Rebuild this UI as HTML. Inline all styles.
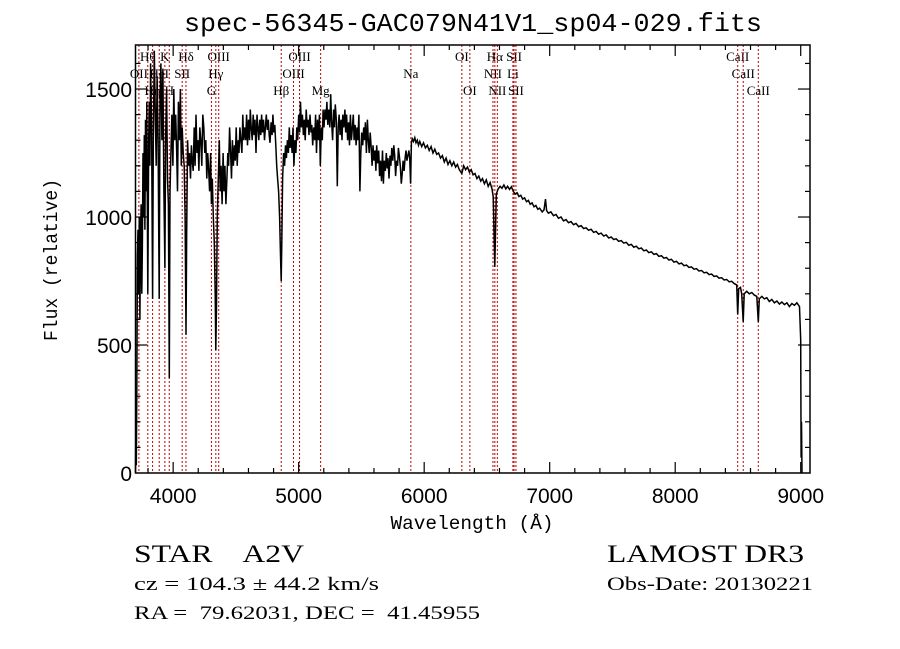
<!DOCTYPE html>
<html><head><meta charset="utf-8"><style>
html,body{margin:0;padding:0;background:#fff;}
svg{display:block;}
</style></head><body>
<svg id="chart" width="900" height="649" xmlns="http://www.w3.org/2000/svg">
<rect x="0" y="0" width="900" height="649" fill="#fff"/>
<text x="473" y="31" font-family="Liberation Mono, monospace" font-size="26" text-anchor="middle" textLength="578" lengthAdjust="spacingAndGlyphs">spec-56345-GAC079N41V1_sp04-029.fits</text>
<g id="lines"></g>
<g id="spec"></g>
<g id="axes"></g>
<text x="472" y="529" font-family="Liberation Mono, monospace" font-size="19" text-anchor="middle" textLength="163" lengthAdjust="spacingAndGlyphs">Wavelength (Å)</text>
<text x="0" y="0" transform="translate(57,260) rotate(-90)" font-family="Liberation Mono, monospace" font-size="19" text-anchor="middle" textLength="162" lengthAdjust="spacingAndGlyphs">Flux (relative)</text>
<g font-family="Liberation Serif, serif" fill="#000">
<text x="134" y="562" font-size="25" xml:space="preserve" textLength="170" lengthAdjust="spacingAndGlyphs">STAR    A2V</text>
<text x="607" y="562" font-size="25" textLength="197" lengthAdjust="spacingAndGlyphs">LAMOST DR3</text>
<text x="134" y="590" font-size="19" textLength="245" lengthAdjust="spacingAndGlyphs">cz = 104.3 ± 44.2 km/s</text>
<text x="607" y="590" font-size="19" textLength="206" lengthAdjust="spacingAndGlyphs">Obs-Date: 20130221</text>
<text x="134" y="619" font-size="19" textLength="346" lengthAdjust="spacingAndGlyphs" xml:space="preserve">RA =  79.62031, DEC =  41.45955</text>
</g>
</svg>
<script>
const waves = [3700,3703,3706,3710,3715,3720,3725,3730,3735,3740,3745,3750,3755,3760,3765,3770,3775,3780,3785,3790,3798,3805,3810,3815,3820,3828,3836,3842,3850,3858,3865,3872,3880,3889,3895,3902,3910,3918,3926,3934,3940,3948,3955,3962,3969,3975,3982,3990,3998,4005,4012,4020,4028,4035,4042,4050,4058,4065,4072,4080,4088,4095,4102,4108,4115,4122,4130,4138,4145,4152,4160,4168,4175,4182,4190,4198,4205,4212,4220,4228,4236,4244,4252,4260,4268,4275,4282,4290,4298,4305,4312,4320,4328,4335,4340,4345,4352,4360,4368,4375,4382,4390,4398,4405,4412,4420,4428,4435,4442,4450,4458,4465,4472,4480,4488,4495,4502,4510,4518,4525,4532,4540,4548,4555,4562,4570,4578,4585,4592,4600,4608,4615,4622,4630,4638,4645,4652,4660,4668,4675,4682,4690,4698,4705,4712,4720,4728,4735,4742,4750,4758,4765,4772,4780,4788,4795,4802,4810,4818,4825,4832,4840,4848,4855,4861,4866,4872,4880,4888,4895,4902,4910,4918,4925,4932,4940,4948,4955,4962,4970,4978,4985,4992,5000,5008,5015,5022,5030,5038,5045,5052,5060,5068,5075,5082,5090,5098,5105,5112,5120,5128,5135,5142,5150,5158,5165,5172,5180,5188,5195,5202,5210,5218,5225,5232,5240,5248,5255,5262,5270,5278,5285,5292,5300,5308,5315,5322,5330,5338,5345,5352,5360,5368,5375,5382,5390,5398,5405,5412,5420,5428,5435,5442,5450,5458,5465,5472,5480,5488,5495,5502,5510,5518,5525,5532,5540,5548,5555,5562,5570,5578,5585,5592,5600,5608,5615,5622,5630,5638,5645,5652,5660,5668,5675,5682,5690,5698,5705,5712,5720,5728,5735,5742,5750,5758,5765,5772,5780,5788,5795,5802,5810,5818,5825,5832,5840,5848,5855,5862,5870,5878,5885,5892,
5898,5905,5915,5925,5935,5945,5955,5965,5980,5995,6010,6025,6040,6055,6070,6085,6100,6115,6130,6145,6160,6175,6190,6205,6220,6235,6250,6265,6280,6300,6315,6330,6345,6360,6375,6390,6405,6420,6435,6450,6465,6480,6495,6510,6525,6540,6550,6556,6563,6568,6575,6590,6605,6620,6635,6650,6665,6680,6695,6710,6725,6740,6755,6770,6785,6800,6815,6830,6845,6860,6875,6890,6905,6920,6940,6955,6967,6975,6990,7010,7030,7050,7070,7090,7110,7130,7150,7170,7190,7210,7230,7250,7270,7290,7310,7330,7350,7370,7390,7410,7430,7450,7470,7490,7510,7530,7550,7570,7590,7610,7630,7650,7670,7690,7710,7730,7750,7770,7790,7810,7830,7850,7870,7890,7910,7930,7950,7970,7990,8010,8030,8050,8070,8090,8110,8130,8150,8170,8190,8210,8230,8250,8270,8290,8310,8330,8350,8370,8390,8410,8430,8450,8470,8490,8498,8506,8520,8530,8542,8550,8570,8590,8610,8630,8650,8662,8670,8690,8710,8730,8750,8770,8790,8810,8830,8850,8870,8890,8910,8930,8950,8970,8990,9000,9003,9006,9010];
const flux = [0,200,30,300,850,950,700,1000,600,900,1050,700,900,1250,1000,1320,950,1380,1100,1450,700,1300,1450,1200,1600,1350,680,1300,1650,1400,1200,1550,1300,680,1450,1600,1300,1580,1100,800,1300,1500,1150,1050,370,1100,1250,1400,1200,1500,1300,1400,1250,1100,1450,1300,1500,1200,1350,1250,1200,1000,540,950,1300,1200,1250,1150,1280,1220,1180,1350,1200,1400,1250,1300,1180,1350,1300,1200,1400,1350,1250,1300,1150,1250,1200,1100,1250,1050,1150,1000,900,700,480,650,1000,1150,1300,1100,1200,1050,1250,1100,1200,1050,1150,1250,1200,1350,1250,1150,1300,1200,1280,1220,1350,1200,1300,1250,1350,1300,1250,1400,1300,1350,1300,1400,1280,1380,1300,1420,1350,1300,1400,1320,1380,1250,1400,1350,1300,1380,1320,1400,1330,1380,1300,1350,1400,1340,1380,1320,1290,1370,1320,1400,1330,1360,1280,1200,1150,1100,1000,850,750,900,1150,1250,1200,1280,1230,1300,1250,1350,1270,1320,1250,1350,1200,1300,1250,1350,1300,1400,1330,1450,1350,1400,1320,1380,1300,1420,1350,1380,1320,1400,1330,1360,1280,1350,1300,1400,1250,1380,1300,1400,1200,1350,1300,1420,1350,1420,1380,1450,1360,1420,1350,1480,1380,1300,1420,1350,1440,1380,1120,1350,1400,1320,1380,1300,1400,1350,1420,1330,1400,1300,1370,1280,1400,1300,1350,1400,1300,1360,1280,1350,1300,1400,1100,1250,1330,1280,1350,1300,1370,1250,1380,1300,1250,1330,1270,1200,1280,1220,1260,1180,1280,1210,1260,1160,1220,1140,1260,1130,1220,1180,1250,1190,1230,1150,1240,1200,1270,1220,1280,1240,1160,1220,1200,1270,1240,1200,1130,1170,1220,1180,1230,1260,1220,1240,1260,1230,1130,
1290,1305,1295,1310,1290,1300,1280,1295,1275,1290,1270,1280,1260,1275,1250,1265,1245,1250,1230,1240,1215,1230,1205,1220,1200,1215,1195,1205,1185,1170,1200,1185,1195,1175,1185,1165,1170,1150,1160,1140,1150,1130,1145,1120,1135,1110,1080,950,805,940,1090,1110,1120,1112,1125,1110,1120,1108,1118,1100,1090,1095,1080,1085,1070,1075,1060,1065,1050,1055,1040,1045,1030,1035,1020,1028,1070,1025,1015,1020,1005,1010,995,1000,985,990,978,982,970,975,962,966,955,958,948,952,940,944,933,937,926,930,918,922,912,915,905,908,898,901,890,893,882,886,876,879,868,871,861,864,854,857,846,849,839,842,832,835,824,827,817,820,810,812,803,805,796,798,789,791,782,784,775,777,768,770,761,763,754,756,747,749,740,735,620,720,725,700,590,700,710,700,705,695,690,590,680,690,680,685,670,678,665,672,660,668,658,665,650,662,655,665,650,520,60,200,0];
const lineWaves = [3727,3798,3836,3889,3934,3969,4072,4102,4305,4340,4363,4861,4959,5007,5175,5894,6300,6364,6548,6563,6583,6707,6716,6731,8498,8542,8662];
const lineNames = ["OII","Hθ","Hη","HeI","K","H","SII","Hδ","G","Hγ","OIII","Hβ","OIII","OIII","Mg","Na","OI","OI","NII","Hα","NII","Li","SII","SII","CaII","CaII","CaII"];
const lineRows = [2,1,3,2,1,3,2,1,3,2,1,3,2,1,3,2,1,3,2,1,3,2,1,3,1,2,3];
const xTicks = [4000,5000,6000,7000,8000,9000];
const yTicks = [0,500,1000,1500];

const L=135.5,R=810,T=45,B=473;
const X0=3700,X1=9074,Y0=0,Y1=1672;
function xs(w){return L+(w-X0)/(X1-X0)*(R-L);}
function ys(f){return B-(f-Y0)/(Y1-Y0)*(B-T);}
const NS="http://www.w3.org/2000/svg";
function mk(tag,attrs,parent){const e=document.createElementNS(NS,tag);for(const k in attrs)e.setAttribute(k,attrs[k]);parent.appendChild(e);return e;}

const lg=document.getElementById('lines');
const rowY={1:61,2:78,3:95};
lineWaves.forEach((w,i)=>{
  const x=xs(w);
  const ln=mk('line',{x1:x,y1:T,x2:x,y2:B,stroke:'#c00000','stroke-width':1,'stroke-dasharray':'2,2'},lg);
  
  
  const t=mk('text',{x:x,y:rowY[lineRows[i]],'font-family':'Liberation Serif, serif','font-size':13,'text-anchor':'middle'},lg);
  t.textContent=lineNames[i];
  
  
});

const sg=document.getElementById('spec');
let d='';
waves.forEach((w,i)=>{d+=(i?'L':'M')+xs(w).toFixed(1)+','+ys(flux[i]).toFixed(1);});
const p=mk('path',{d:d,fill:'none',stroke:'#000','stroke-width':1.5,'stroke-linejoin':'miter'},sg);



const ag=document.getElementById('axes');
const frame=mk('rect',{x:L,y:T,width:R-L,height:B-T,fill:'none',stroke:'#000','stroke-width':1.5},ag);


for(let w=3800;w<=X1;w+=200){
  const x=xs(w);const major=(w%1000===0);const len=major?11:5;
  mk('line',{x1:x,y1:B,x2:x,y2:B-len,stroke:'#000','stroke-width':1.2},ag);
  mk('line',{x1:x,y1:T,x2:x,y2:T+len,stroke:'#000','stroke-width':1.2},ag);
}
xTicks.forEach(w=>{
  const t=mk('text',{x:xs(w),y:503,'font-family':'Liberation Sans, sans-serif','font-size':21,'text-anchor':'middle'},ag);
  t.textContent=String(w);
  
  
});
for(let f=100;f<=Y1;f+=100){
  const y=ys(f);const major=(f%500===0);const len=major?12:5;
  mk('line',{x1:L,y1:y,x2:L+len,y2:y,stroke:'#000','stroke-width':1.2},ag);
  mk('line',{x1:R,y1:y,x2:R-len,y2:y,stroke:'#000','stroke-width':1.2},ag);
}
yTicks.forEach(f=>{
  const t=mk('text',{x:132,y:ys(f)+8,'font-family':'Liberation Sans, sans-serif','font-size':21,'text-anchor':'end'},ag);
  t.textContent=String(f);
  
  
});
</script>
</body></html>
